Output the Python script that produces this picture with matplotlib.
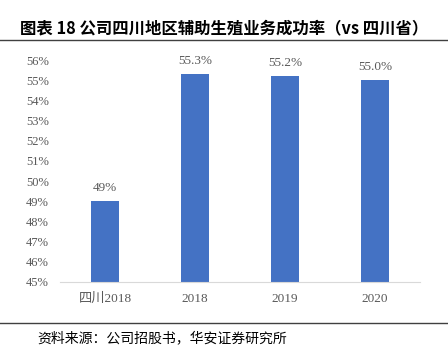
import matplotlib
matplotlib.use("Agg")
from matplotlib import pyplot as plt

plt.rcParams['font.family'] = ['Liberation Serif', 'Noto Sans CJK SC']

categories = ["四川2018", "2018", "2019", "2020"]
values = [49.0, 55.3, 55.2, 55.0]
labels = ["49%", "55.3%", "55.2%", "55.0%"]
yticks = list(range(45, 57))

bar_color = "#4472C4"
text_gray = "#595959"

fig = plt.figure(figsize=(4.48, 3.54), dpi=100)
ax = fig.add_axes([0.134, 0.2034, 0.8036, 0.6271])

x = range(len(categories))
ax.bar(x, values, width=0.31, color=bar_color, bottom=0)
ax.set_ylim(45, 56)
ax.set_xlim(-0.5, len(categories) - 0.5)
ax.set_yticks(yticks)
ax.set_yticklabels([f"{t}%" for t in yticks], color=text_gray, fontsize=9)
ax.set_xticks(list(x))
ax.set_xticklabels(categories, color=text_gray, fontsize=9.5)
ax.tick_params(length=0, pad=8)
ax.tick_params(axis='x', pad=8)

for side in ["top", "right", "left"]:
    ax.spines[side].set_visible(False)
ax.spines["bottom"].set_color("#D9D9D9")

for xi, v, lab in zip(x, values, labels):
    ax.text(xi, v + 0.35, lab, ha="center", va="bottom",
            color=text_gray, fontsize=9.5)

# title and source
fig.text(0.045, 0.921, "图表 18 公司四川地区辅助生殖业务成功率（vs 四川省）",
         family=["Noto Sans CJK SC", "DejaVu Sans"], fontweight="bold",
         fontsize=11.8, va="center", ha="left")
fig.add_artist(plt.Line2D([0, 1], [0.887, 0.887], color="#404040", lw=1))
fig.add_artist(plt.Line2D([0, 1], [0.088, 0.088], color="#404040", lw=1))
fig.text(0.083, 0.045, "资料来源：公司招股书，华安证券研究所",
         family=["Noto Sans CJK SC", "DejaVu Sans"], fontsize=10,
         va="center", ha="left")

plt.savefig("out.png", dpi=100)
